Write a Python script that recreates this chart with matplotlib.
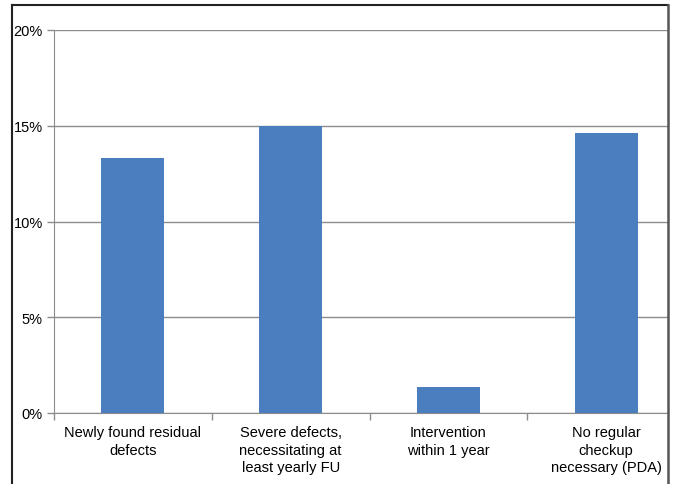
import matplotlib.pyplot as plt
from matplotlib.lines import Line2D
from matplotlib.patches import Rectangle
from matplotlib.ticker import PercentFormatter

# === DATA ===
CATEGORIES = [
    'Newly found residual\ndefects',
    'Severe defects,\nnecessitating at\nleast yearly FU',
    'Intervention\nwithin 1 year',
    'No regular\ncheckup\nnecessary (PDA)',
]
PERCENTS = [13.3, 15.0, 1.35, 14.6]
Y_TICKS = [0, 5, 10, 15, 20]
# === END DATA ===

BAR_COLOR = '#4a7ebf'
GRID_COLOR = '#8c8c8c'
FONT = 'Liberation Sans'

plt.rcParams['font.family'] = FONT
fig = plt.figure(figsize=(6.77, 4.85), dpi=100)

# plot area runs past the right edge of the page (cropped figure)
ax = fig.add_axes([54 / 677, 71 / 485, 631 / 677, 383 / 485])

x = list(range(len(CATEGORIES)))
ax.bar(x, PERCENTS, width=0.4, color=BAR_COLOR, zorder=3)

ax.set_xlim(-0.5, len(CATEGORIES) - 0.5)
ax.set_ylim(0, 20)
ax.set_yticks(Y_TICKS)
ax.yaxis.set_major_formatter(PercentFormatter(decimals=0))
ax.yaxis.grid(True, color=GRID_COLOR, linewidth=1, zorder=0)

ax.set_xticks(x)
ax.set_xticklabels(CATEGORIES, fontsize=10.5, linespacing=1.3)
ax.tick_params(axis='x', which='major', length=0, pad=9)
ax.set_xticks([i - 0.5 for i in range(len(CATEGORIES) + 1)], minor=True)
ax.tick_params(axis='x', which='minor', length=5, color=GRID_COLOR, width=1)
ax.tick_params(axis='y', length=5, color=GRID_COLOR, width=1, labelsize=10.5, pad=3)

for side in ['top', 'right']:
    ax.spines[side].set_visible(False)
ax.spines['left'].set_color(GRID_COLOR)
ax.spines['bottom'].set_color(GRID_COLOR)

# page border around the chart
fig.patches.append(Rectangle((669 / 677, 0), 8 / 677, 1, transform=fig.transFigure,
                             facecolor='white', edgecolor='none', zorder=10))
fig.lines.append(Line2D([12 / 677, 12 / 677], [0, 1 - 6 / 485], transform=fig.transFigure,
                        color='#222222', linewidth=1.5, zorder=11))
fig.lines.append(Line2D([12 / 677, 668 / 677], [1 - 6 / 485, 1 - 6 / 485], transform=fig.transFigure,
                        color='#222222', linewidth=1.5, zorder=11))
fig.lines.append(Line2D([668 / 677, 668 / 677], [0, 1 - 6 / 485], transform=fig.transFigure,
                        color='#555555', linewidth=1.8, zorder=11))

fig.savefig('out.png', dpi=100)
